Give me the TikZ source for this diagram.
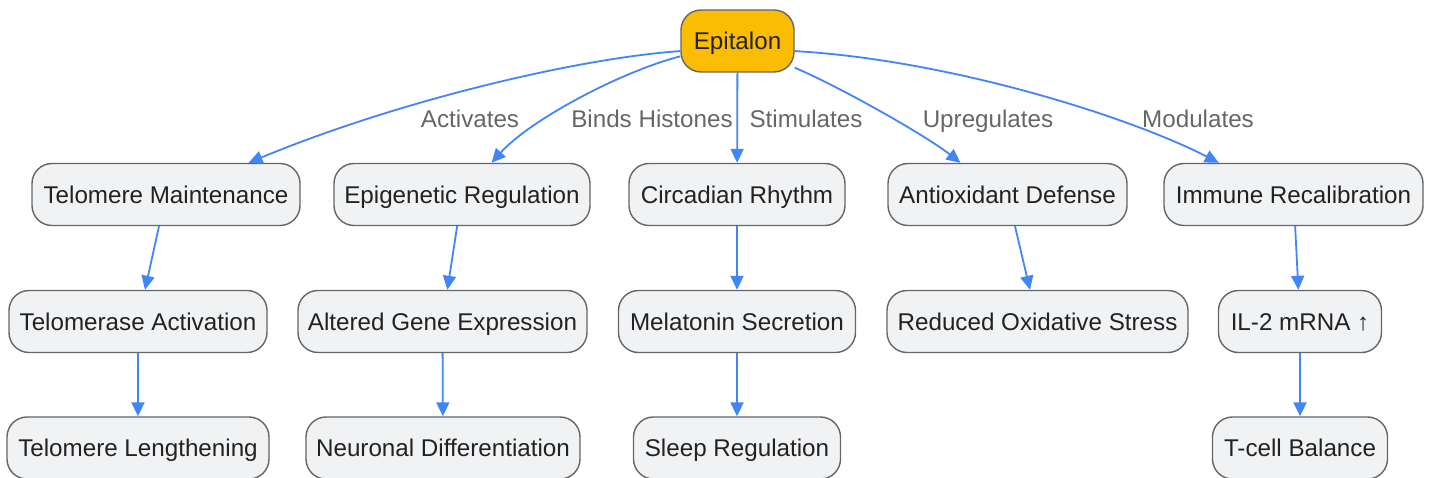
\documentclass[tikz,border=0pt]{standalone}
\usepackage{fontspec}
\setmainfont{Liberation Sans}
\usetikzlibrary{arrows.meta}
\definecolor{edgeblue}{HTML}{4285F4}
\definecolor{boxfill}{HTML}{F1F2F4}
\definecolor{boxline}{HTML}{666666}
\definecolor{epiyellow}{HTML}{FBBC04}
\definecolor{txt}{HTML}{222222}
\definecolor{lbl}{HTML}{666666}
\tikzset{
  box/.style={draw=boxline, line width=1.4pt, fill=boxfill, rounded corners=20pt,
    minimum height=62pt, inner xsep=0pt, inner ysep=0pt, text=txt,
    text height=17.4pt, text depth=0pt,
    font=\fontsize{24.2}{28}\selectfont},
  epibox/.style={box, fill=epiyellow},
  conn/.style={draw=edgeblue, line width=1.8pt, -{Triangle[length=14pt,width=13pt]}},
  elabel/.style={text=lbl, font=\fontsize{24.2}{28}\selectfont, inner sep=0pt,
    text height=17.4pt, text depth=0pt}
}
\begin{document}
\begin{tikzpicture}[x=1pt,y=-1pt]
\useasboundingbox (0,0) rectangle (1432,478);
% nodes
\node[epibox, minimum width=113pt] (epi) at (737.5,41) {Epitalon};
\node[box, minimum width=268pt] (tm) at (166,194.5) {Telomere Maintenance};
\node[box, minimum width=256pt] (eg) at (462,194.5) {Epigenetic Regulation};
\node[box, minimum width=216pt] (cr) at (737,194.5) {Circadian Rhythm};
\node[box, minimum width=239pt] (ad) at (1007.5,194.5) {Antioxidant Defense};
\node[box, minimum width=259pt] (ir) at (1293.5,194.5) {Immune Recalibration};
\node[box, minimum width=258pt] (ta) at (138,321.5) {Telomerase Activation};
\node[box, minimum width=289pt] (ag) at (442.5,321.5) {Altered Gene Expression};
\node[box, minimum width=237pt] (ms) at (737,321.5) {Melatonin Secretion};
\node[box, minimum width=301pt] (ro) at (1037.5,321.5) {Reduced Oxidative Stress};
\node[box, minimum width=163pt] (il) at (1300,321.5) {IL-2 mRNA ↑};
\node[box, minimum width=262pt] (tl) at (138,448) {Telomere Lengthening};
\node[box, minimum width=274pt] (nd) at (443,448) {Neuronal Differentiation};
\node[box, minimum width=207pt] (sr) at (737,448) {Sleep Regulation};
\node[box, minimum width=175pt] (tc) at (1300,448) {T-cell Balance};
% edge labels
\node[elabel] (l1) at (470,119) {Activates};
\node[elabel] (l2) at (652,119) {Binds Histones};
\node[elabel] (l3) at (806,119) {Stimulates};
\node[elabel] (l4) at (988,119) {Upregulates};
\node[elabel] (l5) at (1198,119) {Modulates};
% connectors from Epitalon
\draw[conn] (epi.190) .. controls (580,58) and (400,100) .. (tm.21.9);
\draw[conn] (epi.195.5) .. controls (620,72) and (530,120) .. (eg.47.9);
\draw[conn] (epi) -- (cr);
\draw[conn] (epi.335.7) .. controls (840,87) and (925,135) .. (ad.146.9);
\draw[conn] (epi.350) .. controls (950,60) and (1130,117) .. (ir.157.1);
% second level
\draw[conn] (tm) -- (ta);
\draw[conn] (eg) -- (ag);
\draw[conn] (cr) -- (ms);
\draw[conn] (ad) -- (ro);
\draw[conn] (ir) -- (il);
% third level
\draw[conn] (ta) -- (tl);
\draw[conn] (ag) -- (nd);
\draw[conn] (ms) -- (sr);
\draw[conn] (il) -- (tc);
\end{tikzpicture}
\end{document}
